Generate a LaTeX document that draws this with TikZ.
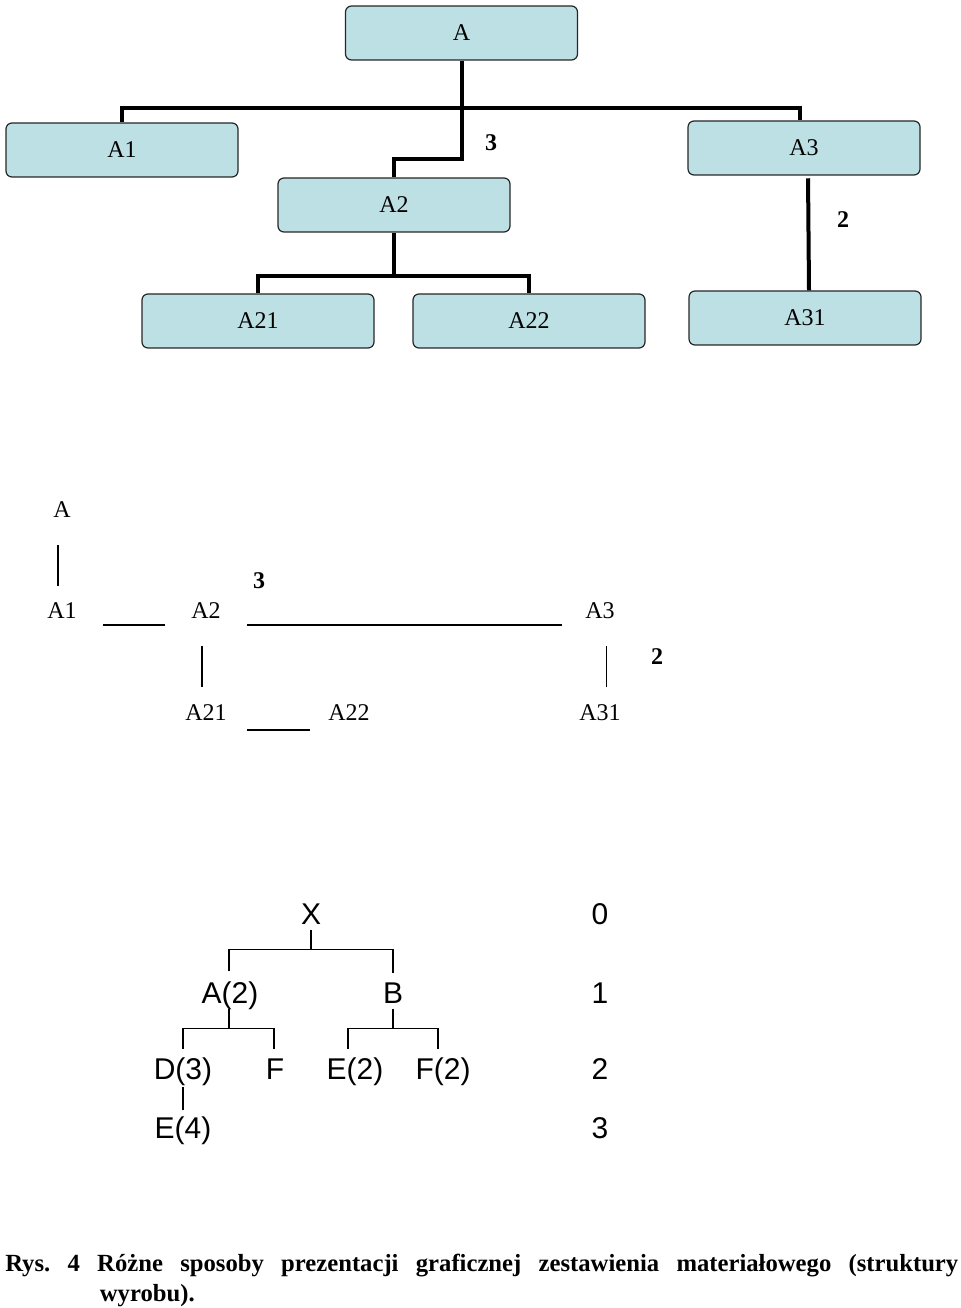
\documentclass[tikz,border=0pt]{standalone}
\usepackage{fontspec}
\setmainfont{Liberation Serif}
\newfontfamily\arialf{Liberation Sans}
\usetikzlibrary{positioning,calc}
\definecolor{boxcyan}{RGB}{189,224,228}
\tikzset{
  blk/.style={draw=black!85, line width=0.9pt, fill=boxcyan, rounded corners=4.5pt, minimum width=174pt, minimum height=40.5pt, inner sep=0pt, font=\fontsize{18}{21}\selectfont},
  lnk/.style={line width=3pt},
  num/.style={inner sep=0pt, font=\fontsize{18}{21}\selectfont\bfseries},
  txt/.style={inner sep=0pt, text height=12pt, text depth=0pt, font=\fontsize{18}{21}\selectfont},
  thn/.style={line width=1.1pt},
  lv/.style={inner sep=0pt, anchor=base, text height=16pt, text depth=4pt, font=\arialf\fontsize{22.5}{26}\selectfont},
  tl/.style={line width=1.2pt},
}
\begin{document}
\begin{tikzpicture}[x=0.75pt, y=-0.75pt]
  \useasboundingbox (0,0) rectangle (960,1308);
  % boxes
  \node[blk] (A) at (461.5,33) {A};
  \node[blk] (A1) at (122,150) {A1};
  \node[blk] (A3) at (804,148) {A3};
  \node[blk] (A2) at (394,205) {A2};
  \node[blk] (A21) at (258,321) {A21};
  \node[blk] (A22) at (529,321) {A22};
  \node[blk] (A31) at (805,318) {A31};
  \draw[lnk] (A.south) -- ++(0,47) coordinate (Abar);
  \draw[lnk] (A1.north) |- (Abar) -| ([xshift=-3pt]A3.north);
  \draw[lnk] (Abar) -- ++(0,51) -| (A2.north);
  \node[num] (n3) at (491,143) {3};
  \draw[lnk] (A2.south) -- ++(0,43) coordinate (A2bar);
  \draw[lnk] (A21.north) |- (A2bar) -| (A22.north);
  \draw[lnk, shorten <=2pt] ([xshift=3pt]A3.south) -- ([xshift=3pt]A31.north);
  \node[num] (n2) at (843,220) {2};

  % text only
  \node[txt] (mA) at (62,509) {A};
  \node[txt] (mA1) at (62,610) {A1};
  \node[txt] (mA2) at (206,610) {A2};
  \node[txt] (mA3) at (600,610) {A3};
  \node[txt] (mA21) at (206,712) {A21};
  \node[txt] (mA22) at (349,712) {A22};
  \node[txt] (mA31) at (600,712) {A31};
  \node[num] (m3) at (259,581) {3};
  \node[num] (m2) at (657,657) {2};
  \draw[thn, shorten <=21pt, shorten >=12pt] ([xshift=-3pt]mA.south) -- ([xshift=-3pt]mA1.north);
  \draw[thn, shorten <=19.7pt, shorten >=19.7pt] ([yshift=-11.25pt]mA1.east) -- ([yshift=-11.25pt]mA2.west);
  \draw[thn, shorten <=19.7pt, shorten >=17.5pt] ([yshift=-11.25pt]mA2.east) -- ([yshift=-11.25pt]mA3.west);
  \draw[thn, shorten <=21pt, shorten >=12.75pt] ([xshift=-3pt]mA2.south) -- ([xshift=-3pt]mA21.north);
  \draw[thn, shorten <=21pt, shorten >=12.75pt] ([xshift=5pt]mA3.south) -- ([xshift=5pt]mA31.north);
  \draw[thn, shorten <=15.2pt, shorten >=13.7pt] ([yshift=-13.5pt]mA21.east) -- ([yshift=-13.5pt]mA22.west);

  % levels
  \node[lv] (X) at (311,924) {X};
  \node[lv] (a2) at (230,1003) {A(2)};
  \node[lv] (b) at (393,1003) {B};
  \node[lv] (d3) at (183,1079) {D(3)};
  \node[lv] (f) at (275,1079) {F};
  \node[lv] (e2) at (355,1079) {E(2)};
  \node[lv] (f2) at (443,1079) {F(2)};
  \node[lv] (e4) at (183,1138) {E(4)};
  \node[lv] (l0) at (600,924) {0};
  \node[lv] (l1) at (600,1003) {1};
  \node[lv] (l2) at (600,1079) {2};
  \node[lv] (l3) at (600,1138) {3};
  \draw[tl] (X.south) -- ++(0,20) coordinate (xb);
  \draw[tl, shorten >=8pt] (xb) -| ([xshift=-0.75pt]a2.north);
  \draw[tl, shorten >=6.5pt] (xb) -| (b.north);
  \draw[tl] ([xshift=-0.75pt]a2.south) -- ++(0,20) coordinate (ab);
  \draw[tl, shorten >=6.5pt] (ab) -| (d3.north);
  \draw[tl, shorten >=6.5pt] (ab) -| ([xshift=-0.75pt]f.north);
  \draw[tl] (b.south) -- ++(0,20) coordinate (bb);
  \draw[tl, shorten >=6.5pt] (bb) -| ([xshift=-5.25pt]e2.north);
  \draw[tl, shorten >=6.5pt] (bb) -| ([xshift=-3.75pt]f2.north);
  \draw[tl, shorten <=2pt, shorten >=5pt] (d3.south) -- (e4.north);

  % caption
  \node[anchor=north west, inner sep=0pt, align=left, font=\fontsize{18.5}{22.5}\selectfont\bfseries\frenchspacing] (cap) at (5,1254)
    {\makebox[714.75pt][s]{Rys. 4 Różne sposoby prezentacji graficznej zestawienia materiałowego (struktury}\\\hspace*{71pt}wyrobu).};
\end{tikzpicture}
\end{document}
